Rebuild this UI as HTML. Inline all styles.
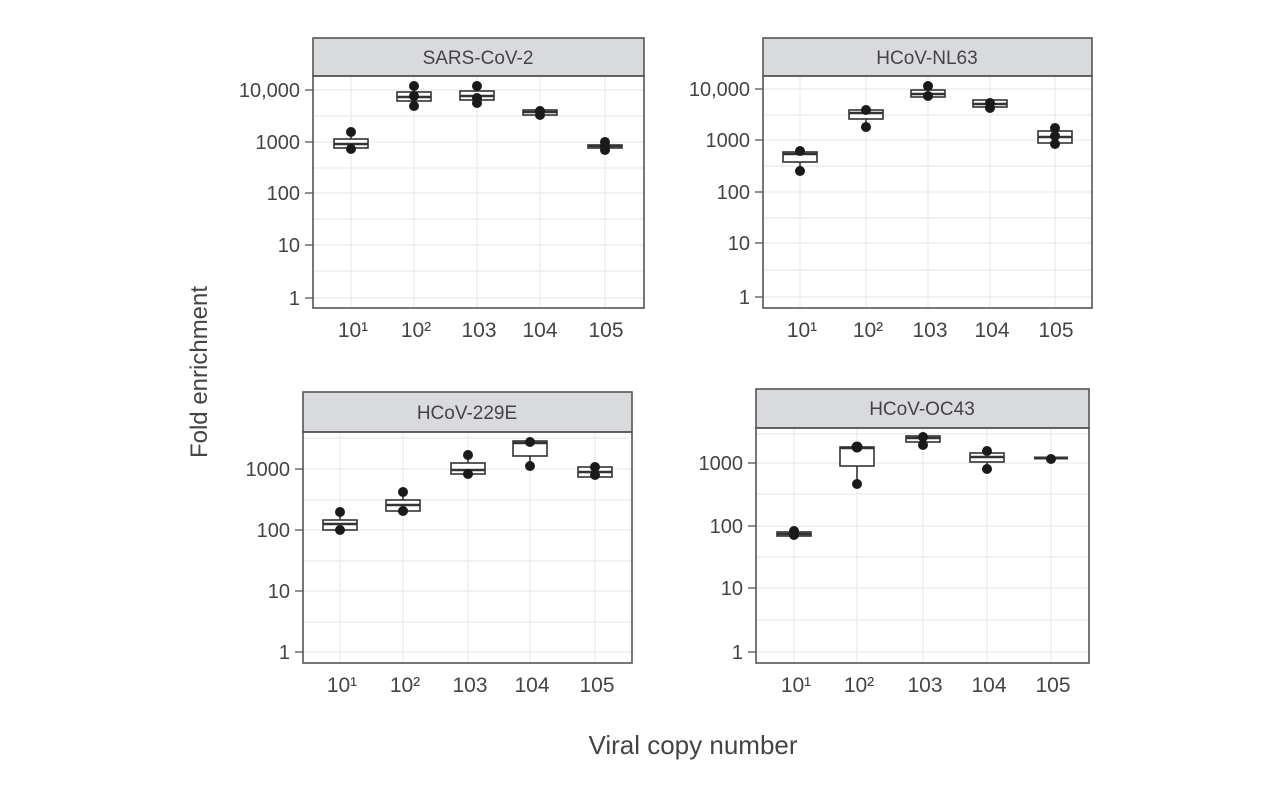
<!DOCTYPE html>
<html><head><style>body{margin:0;background:#fff}svg{display:block}text{font-family:"Liberation Sans",sans-serif;fill:#444}</style></head><body>
<svg width="1280" height="790" viewBox="0 0 1280 790" xmlns="http://www.w3.org/2000/svg">
<g stroke="#ebebeb" stroke-width="1.2">
<line x1="313" x2="644" y1="90" y2="90"/><line x1="313" x2="644" y1="142" y2="142"/><line x1="313" x2="644" y1="193" y2="193"/><line x1="313" x2="644" y1="245" y2="245"/><line x1="313" x2="644" y1="298" y2="298"/>
<line x1="313" x2="644" y1="116" y2="116"/><line x1="313" x2="644" y1="168" y2="168"/><line x1="313" x2="644" y1="219" y2="219"/><line x1="313" x2="644" y1="271" y2="271"/>
<line x1="351" x2="351" y1="76" y2="308"/><line x1="414" x2="414" y1="76" y2="308"/><line x1="477" x2="477" y1="76" y2="308"/><line x1="540" x2="540" y1="76" y2="308"/><line x1="605" x2="605" y1="76" y2="308"/>
<line x1="763" x2="1092" y1="89" y2="89"/><line x1="763" x2="1092" y1="140" y2="140"/><line x1="763" x2="1092" y1="192" y2="192"/><line x1="763" x2="1092" y1="243" y2="243"/><line x1="763" x2="1092" y1="297" y2="297"/>
<line x1="763" x2="1092" y1="115" y2="115"/><line x1="763" x2="1092" y1="166" y2="166"/><line x1="763" x2="1092" y1="218" y2="218"/><line x1="763" x2="1092" y1="270" y2="270"/>
<line x1="800" x2="800" y1="76" y2="308"/><line x1="866" x2="866" y1="76" y2="308"/><line x1="928" x2="928" y1="76" y2="308"/><line x1="990" x2="990" y1="76" y2="308"/><line x1="1055" x2="1055" y1="76" y2="308"/>
<line x1="303" x2="632" y1="469" y2="469"/><line x1="303" x2="632" y1="530" y2="530"/><line x1="303" x2="632" y1="591" y2="591"/><line x1="303" x2="632" y1="652" y2="652"/>
<line x1="303" x2="632" y1="438" y2="438"/><line x1="303" x2="632" y1="500" y2="500"/><line x1="303" x2="632" y1="561" y2="561"/><line x1="303" x2="632" y1="622" y2="622"/>
<line x1="340" x2="340" y1="432" y2="663"/><line x1="403" x2="403" y1="432" y2="663"/><line x1="468" x2="468" y1="432" y2="663"/><line x1="530" x2="530" y1="432" y2="663"/><line x1="595" x2="595" y1="432" y2="663"/>
<line x1="756" x2="1089" y1="463" y2="463"/><line x1="756" x2="1089" y1="526" y2="526"/><line x1="756" x2="1089" y1="588" y2="588"/><line x1="756" x2="1089" y1="652" y2="652"/>
<line x1="756" x2="1089" y1="494" y2="494"/><line x1="756" x2="1089" y1="557" y2="557"/><line x1="756" x2="1089" y1="620" y2="620"/><line x1="756" x2="1089" y1="434" y2="434"/>
<line x1="794" x2="794" y1="428" y2="663"/><line x1="857" x2="857" y1="428" y2="663"/><line x1="923" x2="923" y1="428" y2="663"/><line x1="987" x2="987" y1="428" y2="663"/><line x1="1051" x2="1051" y1="428" y2="663"/>
</g>
<g stroke="#555" stroke-width="1.6">
<rect x="313" y="38" width="331" height="38" fill="#d9dadd"/><rect x="313" y="76" width="331" height="232" fill="none"/>
<rect x="763" y="38" width="329" height="38" fill="#d9dadd"/><rect x="763" y="76" width="329" height="232" fill="none"/>
<rect x="303" y="392" width="329" height="40" fill="#d9dadd"/><rect x="303" y="432" width="329" height="231" fill="none"/>
<rect x="756" y="389" width="333" height="39" fill="#d9dadd"/><rect x="756" y="428" width="333" height="235" fill="none"/>
</g>
<g font-size="19" text-anchor="middle">
<text x="478" y="64">SARS-CoV-2</text><text x="927" y="64">HCoV-NL63</text><text x="467" y="419">HCoV-229E</text><text x="922" y="415">HCoV-OC43</text>
</g>
<g stroke="#555" stroke-width="1.3">
<line x1="305" x2="313" y1="90" y2="90"/><line x1="305" x2="313" y1="142" y2="142"/><line x1="305" x2="313" y1="193" y2="193"/><line x1="305" x2="313" y1="245" y2="245"/><line x1="305" x2="313" y1="298" y2="298"/>
<line x1="755" x2="763" y1="89" y2="89"/><line x1="755" x2="763" y1="140" y2="140"/><line x1="755" x2="763" y1="192" y2="192"/><line x1="755" x2="763" y1="243" y2="243"/><line x1="755" x2="763" y1="297" y2="297"/>
<line x1="295" x2="303" y1="469" y2="469"/><line x1="295" x2="303" y1="530" y2="530"/><line x1="295" x2="303" y1="591" y2="591"/><line x1="295" x2="303" y1="652" y2="652"/>
<line x1="748" x2="756" y1="463" y2="463"/><line x1="748" x2="756" y1="526" y2="526"/><line x1="748" x2="756" y1="588" y2="588"/><line x1="748" x2="756" y1="652" y2="652"/>
</g>
<g font-size="20" text-anchor="end">
<text x="300" y="97">10,000</text><text x="300" y="149">1000</text><text x="300" y="200">100</text><text x="300" y="252">10</text><text x="300" y="305">1</text>
<text x="750" y="96">10,000</text><text x="750" y="147">1000</text><text x="750" y="199">100</text><text x="750" y="250">10</text><text x="750" y="304">1</text>
<text x="290" y="476">1000</text><text x="290" y="537">100</text><text x="290" y="598">10</text><text x="290" y="659">1</text>
<text x="743" y="470">1000</text><text x="743" y="533">100</text><text x="743" y="595">10</text><text x="743" y="659">1</text>
</g>
<g font-size="21" text-anchor="middle">
<text x="353" y="337">10¹</text><text x="416" y="337">10²</text><text x="479" y="337">103</text><text x="540" y="337">104</text><text x="606" y="337">105</text>
<text x="802" y="337">10¹</text><text x="868" y="337">10²</text><text x="930" y="337">103</text><text x="992" y="337">104</text><text x="1056" y="337">105</text>
<text x="342" y="692">10¹</text><text x="405" y="692">10²</text><text x="470" y="692">103</text><text x="532" y="692">104</text><text x="597" y="692">105</text>
<text x="796" y="692">10¹</text><text x="859" y="692">10²</text><text x="925" y="692">103</text><text x="989" y="692">104</text><text x="1053" y="692">105</text>
</g>
<text x="693" y="754" font-size="26" text-anchor="middle">Viral copy number</text>
<text transform="translate(207,372) rotate(-90)" font-size="24" text-anchor="middle">Fold enrichment</text>
<g stroke="#333" stroke-width="1.6" fill="#fff">
<line x1="351" x2="351" y1="132" y2="149"/><rect x="334" y="139" width="34" height="9"/><line x1="334" x2="368" y1="144" y2="144" stroke-width="2.5"/>
<line x1="414" x2="414" y1="86" y2="106"/><rect x="397" y="92" width="34" height="9"/><line x1="397" x2="431" y1="97" y2="97" stroke-width="2.5"/>
<line x1="477" x2="477" y1="86" y2="103"/><rect x="460" y="91" width="34" height="9"/><line x1="460" x2="494" y1="96" y2="96" stroke-width="2.5"/>
<rect x="523" y="110" width="34" height="5"/><line x1="523" x2="557" y1="112" y2="112" stroke-width="2.5"/>
<rect x="588" y="145" width="34" height="3"/><line x1="588" x2="622" y1="146" y2="146" stroke-width="2.5"/>
<line x1="800" x2="800" y1="151" y2="171"/><rect x="783" y="152" width="34" height="10"/><line x1="783" x2="817" y1="154" y2="154" stroke-width="2.5"/>
<line x1="866" x2="866" y1="110" y2="127"/><rect x="849" y="110" width="34" height="9"/><line x1="849" x2="883" y1="113" y2="113" stroke-width="2.5"/>
<line x1="928" x2="928" y1="86" y2="97"/><rect x="911" y="90" width="34" height="7"/><line x1="911" x2="945" y1="94" y2="94" stroke-width="2.5"/>
<rect x="973" y="100" width="34" height="7"/><line x1="973" x2="1007" y1="104" y2="104" stroke-width="2.5"/>
<line x1="1055" x2="1055" y1="128" y2="144"/><rect x="1038" y="131" width="34" height="12"/><line x1="1038" x2="1072" y1="137" y2="137" stroke-width="2.5"/>
<line x1="340" x2="340" y1="512" y2="530"/><rect x="323" y="520" width="34" height="10"/><line x1="323" x2="357" y1="524" y2="524" stroke-width="2.5"/>
<line x1="403" x2="403" y1="492" y2="511"/><rect x="386" y="500" width="34" height="11"/><line x1="386" x2="420" y1="505" y2="505" stroke-width="2.5"/>
<line x1="468" x2="468" y1="455" y2="474"/><rect x="451" y="463" width="34" height="11"/><line x1="451" x2="485" y1="470" y2="470" stroke-width="2.5"/>
<line x1="530" x2="530" y1="442" y2="466"/><rect x="513" y="441" width="34" height="15"/><line x1="513" x2="547" y1="443" y2="443" stroke-width="2.5"/>
<rect x="578" y="467" width="34" height="10"/><line x1="578" x2="612" y1="472" y2="472" stroke-width="2.5"/>
<rect x="777" y="532" width="34" height="4"/><line x1="777" x2="811" y1="534" y2="534" stroke-width="2.5"/>
<line x1="857" x2="857" y1="447" y2="484"/><rect x="840" y="447" width="34" height="19"/><line x1="840" x2="874" y1="448" y2="448" stroke-width="2.5"/>
<rect x="906" y="436" width="34" height="6"/><line x1="906" x2="940" y1="438" y2="438" stroke-width="2.5"/>
<line x1="987" x2="987" y1="451" y2="469"/><rect x="970" y="453" width="34" height="9"/><line x1="970" x2="1004" y1="457" y2="457" stroke-width="2.5"/>
<line x1="1034" x2="1068" y1="458" y2="458" stroke-width="3"/>
</g>
<g fill="#1a1a1a">
<circle cx="351" cy="132" r="5"/><circle cx="351" cy="149" r="5"/>
<circle cx="414" cy="86" r="5"/><circle cx="414" cy="96" r="5"/><circle cx="414" cy="106" r="5"/>
<circle cx="477" cy="86" r="5"/><circle cx="477" cy="98" r="5"/><circle cx="477" cy="103" r="5"/>
<circle cx="540" cy="111" r="5"/><circle cx="540" cy="115" r="5"/>
<circle cx="605" cy="142" r="5"/><circle cx="605" cy="146" r="5"/><circle cx="605" cy="150" r="5"/>
<circle cx="800" cy="151" r="5"/><circle cx="800" cy="171" r="5"/>
<circle cx="866" cy="110" r="5"/><circle cx="866" cy="127" r="5"/>
<circle cx="928" cy="86" r="5"/><circle cx="928" cy="96" r="5"/>
<circle cx="990" cy="103" r="5"/><circle cx="990" cy="108" r="5"/>
<circle cx="1055" cy="128" r="5"/><circle cx="1055" cy="136" r="5"/><circle cx="1055" cy="144" r="5"/>
<circle cx="340" cy="512" r="5"/><circle cx="340" cy="530" r="5"/>
<circle cx="403" cy="492" r="5"/><circle cx="403" cy="511" r="5"/>
<circle cx="468" cy="455" r="5"/><circle cx="468" cy="474" r="5"/>
<circle cx="530" cy="442" r="5"/><circle cx="530" cy="466" r="5"/>
<circle cx="595" cy="467" r="5"/><circle cx="595" cy="475" r="5"/>
<circle cx="794" cy="531" r="5"/><circle cx="794" cy="535" r="5"/>
<circle cx="857" cy="447" r="5.5"/><circle cx="857" cy="484" r="5"/>
<circle cx="923" cy="437" r="5"/><circle cx="923" cy="445" r="5"/>
<circle cx="987" cy="451" r="5"/><circle cx="987" cy="469" r="5"/>
<circle cx="1051" cy="459" r="5"/>
</g>
</svg>
</body></html>
